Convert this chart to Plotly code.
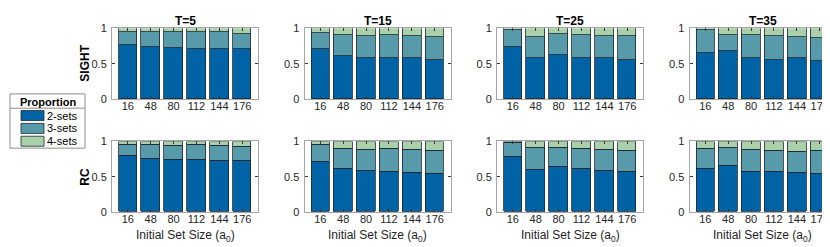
import plotly.graph_objects as go

# ---------------- data ----------------
set_sizes = [16, 48, 80, 112, 144, 176]
t_labels = ["T=5", "T=15", "T=25", "T=35"]
row_labels = ["SIGHT", "RC"]
series_names = ["2-sets", "3-sets", "4-sets"]

sight_two_T5 = [0.76, 0.73, 0.72, 0.71, 0.70, 0.70]
sight_three_T5 = [0.18, 0.22, 0.22, 0.23, 0.24, 0.22]
sight_four_T5 = [0.06, 0.05, 0.06, 0.06, 0.06, 0.08]

sight_two_T15 = [0.70, 0.61, 0.58, 0.57, 0.57, 0.55]
sight_three_T15 = [0.23, 0.29, 0.305, 0.33, 0.315, 0.325]
sight_four_T15 = [0.07, 0.10, 0.115, 0.10, 0.115, 0.125]

sight_two_T25 = [0.73, 0.58, 0.625, 0.58, 0.58, 0.555]
sight_three_T25 = [0.247, 0.295, 0.285, 0.32, 0.305, 0.33]
sight_four_T25 = [0.023, 0.125, 0.09, 0.10, 0.115, 0.115]

sight_two_T35 = [0.65, 0.68, 0.58, 0.555, 0.57, 0.54]
sight_three_T35 = [0.315, 0.22, 0.32, 0.33, 0.305, 0.322]
sight_four_T35 = [0.035, 0.10, 0.10, 0.115, 0.125, 0.138]

rc_two_T5 = [0.80, 0.755, 0.745, 0.745, 0.733, 0.724]
rc_three_T5 = [0.16, 0.205, 0.20, 0.215, 0.212, 0.208]
rc_four_T5 = [0.04, 0.04, 0.055, 0.04, 0.055, 0.068]

rc_two_T15 = [0.72, 0.61, 0.59, 0.58, 0.565, 0.55]
rc_three_T15 = [0.24, 0.295, 0.30, 0.325, 0.325, 0.328]
rc_four_T15 = [0.04, 0.095, 0.11, 0.095, 0.11, 0.122]

rc_two_T25 = [0.785, 0.60, 0.64, 0.61, 0.595, 0.58]
rc_three_T25 = [0.195, 0.313, 0.273, 0.295, 0.295, 0.298]
rc_four_T25 = [0.02, 0.087, 0.087, 0.095, 0.11, 0.122]

rc_two_T35 = [0.62, 0.665, 0.58, 0.58, 0.565, 0.55]
rc_three_T35 = [0.285, 0.253, 0.31, 0.298, 0.299, 0.328]
rc_four_T35 = [0.095, 0.082, 0.11, 0.122, 0.136, 0.122]

panels = [
    [(sight_two_T5, sight_three_T5, sight_four_T5),
     (sight_two_T15, sight_three_T15, sight_four_T15),
     (sight_two_T25, sight_three_T25, sight_four_T25),
     (sight_two_T35, sight_three_T35, sight_four_T35)],
    [(rc_two_T5, rc_three_T5, rc_four_T5),
     (rc_two_T15, rc_three_T15, rc_four_T15),
     (rc_two_T25, rc_three_T25, rc_four_T25),
     (rc_two_T35, rc_three_T35, rc_four_T35)],
]

# ---------------- style ----------------
W, H = 830, 247
colors = ["#0063a6", "#579bab", "#a9d0a9"]
edge = "#1c2833"
font_family = "Liberation Sans, Arial, sans-serif"
col_px = [(104, 250), (296.5, 442.5), (489, 635), (681.5, 827.5)]
row_px = [(15, 89.5), (134, 208)]


def px_x(p):
    return p / W


def px_y(p):
    return 1 - p / H


fig = go.Figure()
annotations = []
shapes = []

for r in range(2):
    for c in range(4):
        idx = r * 4 + c + 1
        xa = "x" if idx == 1 else f"x{idx}"
        ya = "y" if idx == 1 else f"y{idx}"
        for s in range(3):
            fig.add_trace(go.Bar(
                x=set_sizes, y=panels[r][c][s], name=series_names[s],
                xaxis=xa, yaxis=ya, width=25.6,
                marker=dict(color=colors[s], line=dict(color=edge, width=0.8)),
                showlegend=False,
            ))
        x0, x1 = col_px[c]
        y0, y1 = row_px[r]
        axis_common = dict(
            showline=True, linecolor="#a6a6a6", linewidth=1, mirror="ticks",
            ticks="inside", ticklen=3, tickcolor="#3a3a3a", tickwidth=1,
            showgrid=False, zeroline=False,
            tickfont=dict(family=font_family, size=11, color="#262626"),
        )
        fig.layout[f"xaxis{idx if idx > 1 else ''}"] = dict(
            axis_common, domain=[px_x(x0), px_x(x1)], anchor=ya,
            range=[-6, 198], tickvals=set_sizes,
            ticktext=[str(v) for v in set_sizes], ticklabelstandoff=-3,
        )
        fig.layout[f"yaxis{idx if idx > 1 else ''}"] = dict(
            axis_common, domain=[px_y(y1), px_y(y0)], anchor=xa,
            range=[0, 1], tickvals=[0, 0.5, 1], ticktext=["0", "0.5", "1"],
            ticklabelstandoff=2,
        )
        if r == 0:
            annotations.append(dict(
                text=f"<b>{t_labels[c]}</b>", x=px_x((x0 + x1) / 2), y=px_y(7),
                xref="paper", yref="paper", showarrow=False,
                font=dict(family=font_family, size=12, color="#000"),
                xanchor="center", yanchor="middle"))
        if r == 1:
            annotations.append(dict(
                text="Initial Set Size (a<sub>0</sub>)", x=px_x((x0 + x1) / 2),
                y=px_y(233), xref="paper", yref="paper", showarrow=False,
                font=dict(family=font_family, size=12, color="#262626"),
                xanchor="center", yanchor="middle"))
    annotations.append(dict(
        text=f"<b>{row_labels[r]}</b>", x=px_x(77), y=px_y(sum(row_px[r]) / 2),
        xref="paper", yref="paper", showarrow=False, textangle=-90,
        font=dict(family=font_family, size=12, color="#000"),
        xanchor="center", yanchor="middle"))

# ---------------- manual legend ----------------
shapes.append(dict(type="rect", xref="paper", yref="paper",
                   x0=px_x(2), x1=px_x(77), y0=px_y(141), y1=px_y(84),
                   line=dict(color="#8c8c8c", width=1), fillcolor="white"))
shapes.append(dict(type="line", xref="paper", yref="paper",
                   x0=px_x(2), x1=px_x(77), y0=px_y(99), y1=px_y(99),
                   line=dict(color="#8c8c8c", width=1)))
annotations.append(dict(
    text="<b>Proportion</b>", x=px_x(39.5), y=px_y(92), xref="paper", yref="paper",
    showarrow=False, font=dict(family=font_family, size=11, color="#000"),
    xanchor="center", yanchor="middle"))
sw_rows = [(101.5, 112), (115, 125.5), (128.5, 139)]
for s in range(3):
    a, b = sw_rows[s]
    shapes.append(dict(type="rect", xref="paper", yref="paper",
                       x0=px_x(13), x1=px_x(36), y0=px_y(b), y1=px_y(a),
                       line=dict(color=edge, width=0.8), fillcolor=colors[s]))
    annotations.append(dict(
        text=series_names[s], x=px_x(37), y=px_y((a + b) / 2),
        xref="paper", yref="paper", showarrow=False,
        font=dict(family=font_family, size=11, color="#000"),
        xanchor="left", yanchor="middle"))

fig.update_layout(
    width=W, height=H, margin=dict(l=0, r=0, t=0, b=0),
    barmode="stack", bargap=0,
    plot_bgcolor="white", paper_bgcolor="white",
    annotations=annotations, shapes=shapes,
    font=dict(family=font_family),
)
fig.write_html("out.html")
